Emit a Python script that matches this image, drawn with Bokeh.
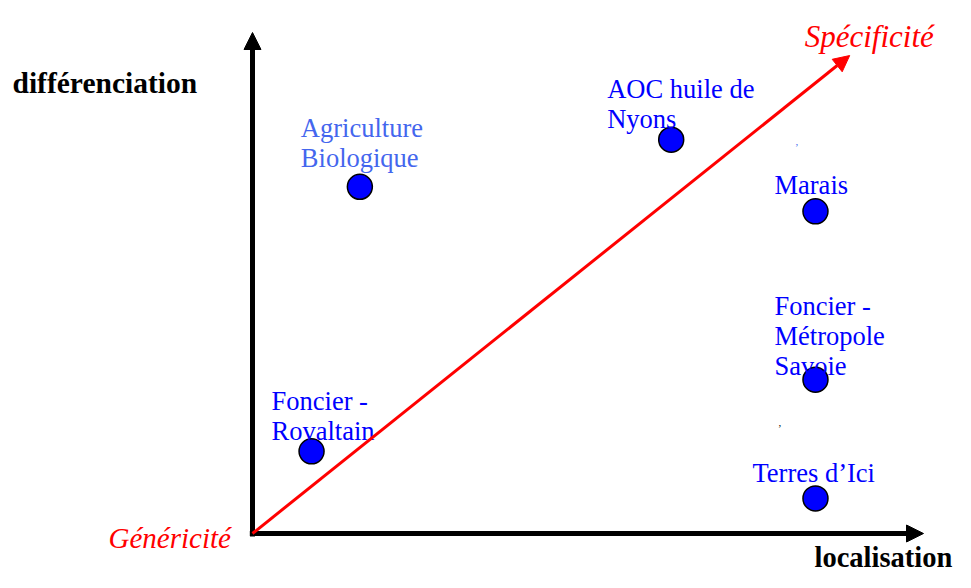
from bokeh.plotting import figure
from bokeh.models import Range1d, Arrow, NormalHead, ColumnDataSource
from bokeh.core.properties import value
from bokeh.embed import file_html
from bokeh.resources import INLINE

# ---- data (conceptual positions, axes span 0..10) ----
names = ["Agriculture\nBiologique", "AOC huile de\nNyons", "Marais",
         "Foncier  -\nMétropole\nSavoie", "Foncier -\nRovaltain", "Terres d\u2019Ici"]
loc_x = [1.60, 6.24, 8.39, 8.39, 0.88, 8.39]      # localisation
diff_y = [6.92, 7.86, 6.43, 3.07, 1.64, 0.70]     # différenciation
label_colors = ["#4466EE", "#0000FF", "#0000FF", "#0000FF", "#0000FF", "#0000FF"]
# label placement relative to each point (pixels: dx, first-baseline dy)
label_dx = [-59, -64, -41, -41, -40, -63]
label_dy = [-59, -51, -26, -74, -50, -25]

axis_max = 10.0
spec_tip = (8.90, 9.54)

W, H = 955, 572
PX_X, PX_Y = 67.1, 50.1
x0 = -252 / PX_X
y0 = -39 / PX_Y

p = figure(width=W, height=H, output_backend="svg", toolbar_location=None,
           x_range=Range1d(x0, x0 + W / PX_X), y_range=Range1d(y0, y0 + H / PX_Y),
           min_border=0, outline_line_color=None)
p.axis.visible = False
p.grid.visible = False
p.background_fill_color = "white"
p.border_fill_color = "white"

# axes arrows
p.add_layout(Arrow(x_start=0, y_start=-0.06, x_end=0, y_end=axis_max,
                   line_width=5, line_color="black",
                   end=NormalHead(size=17, fill_color="black", line_color="black")))
p.add_layout(Arrow(x_start=-0.04, y_start=0, x_end=axis_max, y_end=0,
                   line_width=5, line_color="black",
                   end=NormalHead(size=17, fill_color="black", line_color="black")))
# red specificity arrow
p.add_layout(Arrow(x_start=0, y_start=0, x_end=spec_tip[0], y_end=spec_tip[1],
                   line_width=3, line_color="#FF0000",
                   end=NormalHead(size=16, fill_color="#FF0000", line_color="#FF0000")))

# points
p.scatter(loc_x, diff_y, size=25, fill_color="#0000FF", line_color="black", line_width=1.5)

# labels (one entry per line)
lx, ly, lt, lc, ox, oy = [], [], [], [], [], []
for i, n in enumerate(names):
    for j, line in enumerate(n.split("\n")):
        lx.append(loc_x[i]); ly.append(diff_y[i]); lt.append(line); lc.append(label_colors[i])
        ox.append(label_dx[i]); oy.append(label_dy[i] + 30 * j)
src = ColumnDataSource(dict(x=lx, y=ly, t=lt, c=lc, ox=ox, oy=oy))
p.text(x="x", y="y", text="t", source=src, text_color="c", x_offset="ox", y_offset="oy",
       text_font=value("Liberation Serif"), text_font_size="26.5px",
       text_align="left", text_baseline="alphabetic")

# axis titles and poles
def label(x, y, t, size, color, style, dx, dy):
    p.text(x=[x], y=[y], text=[t], x_offset=dx, y_offset=dy, text_color=color,
           text_font=value("Liberation Serif"), text_font_size=size, text_font_style=style,
           text_align="left", text_baseline="alphabetic")

label(0, axis_max, "différenciation", "29.5px", "black", "bold", -240, 50)
label(axis_max, 0, "localisation", "28.5px", "black", "bold", -109, 24)
label(0, 0, "Généricité", "29px", "#FF0000", "italic", -144, 4)
label(spec_tip[0], spec_tip[1], "Spécificité", "31px", "#FF0000", "italic", -45, -19)
# stray marks in the original
label(8.39, 6.43, ",", "11px", "#4466EE", "normal", -20, -70)
label(8.39, 3.07, ",", "11px", "black", "normal", -37, 43)

open("out.html", "w").write(file_html(p, INLINE))
